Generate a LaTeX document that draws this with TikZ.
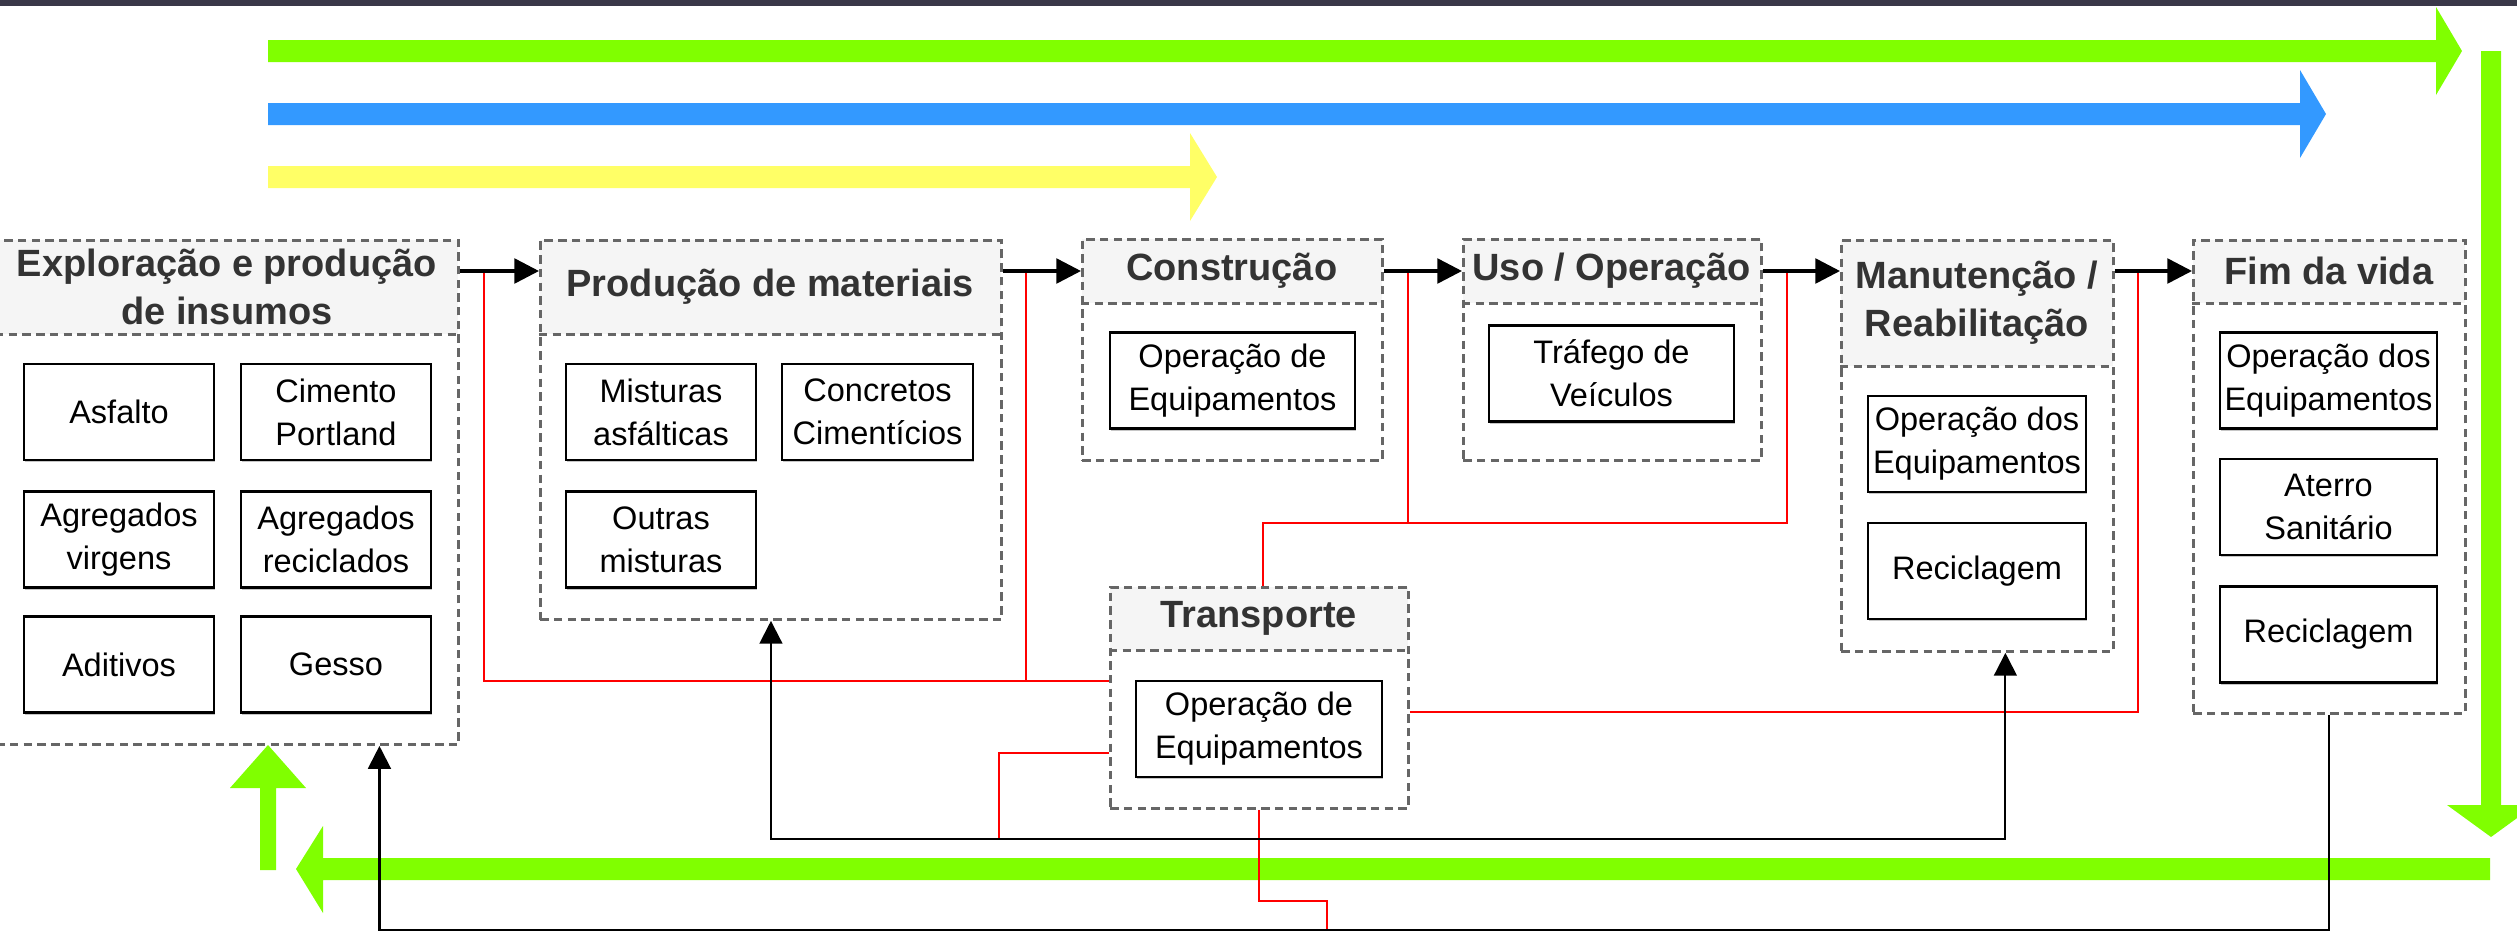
\documentclass[tikz,border=0pt]{standalone}
\usepackage{fontspec}
\setmainfont{Liberation Sans}
\usetikzlibrary{arrows.meta,calc,shadows}

\definecolor{hdrgray}{HTML}{F5F5F5}
\definecolor{txtgray}{HTML}{333333}
\definecolor{dashgray}{HTML}{666666}
\definecolor{limegreen}{HTML}{80FF00}
\definecolor{skyblue}{HTML}{3399FF}
\definecolor{paleyellow}{HTML}{FFFF66}
\definecolor{topbar}{HTML}{3A3848}

\begin{document}
\begin{tikzpicture}[x=0.01cm,y=-0.01cm,
  grp/.style={draw=dashgray,line width=0.75pt,dash pattern=on 2.4pt off 1.5pt,inner sep=0pt,anchor=north west},
  hdr/.style={fill=hdrgray,inner sep=0pt,anchor=north west,align=center,text=txtgray,font=\fontsize{10.8}{13.8}\selectfont\bfseries},
  item/.style={draw=black,fill=white,line width=0.6pt,inner sep=1pt,align=center,minimum height=0.96cm,font=\fontsize{9.25}{12.2}\selectfont,drop shadow={shadow xshift=0.4pt,shadow yshift=-0.6pt,opacity=0.45}},
  flow/.style={line width=1pt,-{Triangle[length=7pt,width=7pt]}},
  redl/.style={draw=red,line width=0.6pt},
  fb/.style={line width=0.6pt},
  ret/.tip={Triangle[length=6.5pt,width=6.5pt]}]
\useasboundingbox (0,0) rectangle (2517,933);
\fill[topbar] (0,0) rectangle (2517,6);

% fat flow arrows
\fill[limegreen] (268,40) -- (2436,40) -- (2436,7) -- (2462,51) -- (2436,95) -- (2436,62) -- (268,62) -- cycle;
\fill[skyblue] (268,103) -- (2300,103) -- (2300,70) -- (2326,114) -- (2300,158) -- (2300,125) -- (268,125) -- cycle;
\fill[paleyellow] (268,166) -- (1190,166) -- (1190,133) -- (1217,177) -- (1190,221) -- (1190,188) -- (268,188) -- cycle;
\fill[limegreen] (2481,51) -- (2501,51) -- (2501,805) -- (2535,805) -- (2491,837) -- (2447,805) -- (2481,805) -- cycle;
\fill[limegreen] (2490,858) -- (2490,880) -- (323,880) -- (323,913) -- (296,869) -- (323,826) -- (323,858) -- cycle;
\fill[limegreen] (260,870) -- (276,870) -- (276,788) -- (306,788) -- (268,745) -- (230,788) -- (260,788) -- cycle;

% stages
\node[hdr,minimum width=4.62cm,minimum height=0.94cm] (explh) at (-5,239) {Exploração e produção\\de insumos};
\node[grp,minimum width=4.62cm,minimum height=5.04cm] (expl) at (-5,239) {};
\draw[grp] (explh.south west) -- (explh.south east);

\node[hdr,minimum width=4.61cm,minimum height=0.94cm] (prodh) at (539,239) {Produção de materiais};
\node[grp,minimum width=4.61cm,minimum height=3.79cm] (prod) at (539,239) {};
\draw[grp] (prodh.south west) -- (prodh.south east);

\node[hdr,minimum width=3.00cm,minimum height=0.64cm] (consh) at (1081,238) {Construção};
\node[grp,minimum width=3.00cm,minimum height=2.21cm] (cons) at (1081,238) {};
\draw[grp] (consh.south west) -- (consh.south east);

\node[hdr,minimum width=2.98cm,minimum height=0.64cm] (usoh) at (1462,238) {Uso / Operação};
\node[grp,minimum width=2.98cm,minimum height=2.21cm] (uso) at (1462,238) {};
\draw[grp] (usoh.south west) -- (usoh.south east);

\node[hdr,minimum width=2.72cm,minimum height=1.26cm] (manuth) at (1840,239) {Manutenção /\\Reabilitação};
\node[grp,minimum width=2.72cm,minimum height=4.11cm] (manut) at (1840,239) {};
\draw[grp] (manuth.south west) -- (manuth.south east);

\node[hdr,minimum width=2.72cm,minimum height=0.63cm] (fimh) at (2192,239) {Fim da vida};
\node[grp,minimum width=2.72cm,minimum height=4.73cm] (fim) at (2192,239) {};
\draw[grp] (fimh.south west) -- (fimh.south east);

\node[hdr,minimum width=2.98cm,minimum height=0.63cm] (transph) at (1109,586) {Transporte};
\node[grp,minimum width=2.98cm,minimum height=2.21cm] (transp) at (1109,586) {};
\draw[grp] (transph.south west) -- (transph.south east);

% items
\node[item,minimum width=1.9cm] (asf) at (119,412) {Asfalto};
\node[item,minimum width=1.9cm] (cim) at (336,412) {Cimento\\Portland};
\node[item,minimum width=1.9cm] (agv) at (119,539.5) {Agregados\\virgens};
\node[item,minimum width=1.9cm] (agr) at (336,539.5) {Agregados\\reciclados};
\node[item,minimum width=1.9cm] (adi) at (119,664.5) {Aditivos};
\node[item,minimum width=1.9cm] (ges) at (336,664.5) {Gesso};
\node[item,minimum width=1.9cm] (mas) at (661,412) {Misturas\\asfálticas};
\node[item,minimum width=1.91cm] (ccm) at (877.5,412) {Concretos\\Cimentícios};
\node[item,minimum width=1.9cm] (omi) at (661,539.5) {Outras\\misturas};
\node[item,minimum width=2.45cm] (opc) at (1232.5,380.5) {Operação de\\Equipamentos};
\node[item,minimum width=2.45cm] (trf) at (1611.5,373.5) {Tráfego de\\Veículos};
\node[item,minimum width=2.18cm] (opm) at (1977,444) {Operação dos\\Equipamentos};
\node[item,minimum width=2.18cm] (rcm) at (1977,571) {Reciclagem};
\node[item,minimum width=2.17cm] (opf) at (2328.5,380.5) {Operação dos\\Equipamentos};
\node[item,minimum width=2.17cm] (ate) at (2328.5,507) {Aterro\\Sanitário};
\node[item,minimum width=2.17cm] (rcf) at (2328.5,634.5) {Reciclagem};
\node[item,minimum width=2.46cm] (opt) at (1259,729) {Operação de\\Equipamentos};

% transport links
\coordinate (ra) at (484,271);
\coordinate (rb) at (1026,271);
\coordinate (rc) at (1408,271);
\coordinate (rd) at (1787,271);
\coordinate (rf) at (2138,271);
\coordinate (ryA) at (0,681);
\coordinate (rj) at (1263,523);
\coordinate (ryC) at (0,712);
\coordinate (ryD) at (0,753);
\coordinate (rend) at (999,839);
\coordinate (ryE) at (0,901);
\coordinate (rbot) at (1327,930);
\draw[redl] (ra) |- (ryA -| transp.west);
\draw[redl] (rb) -- (rb |- ryA);
\draw[redl] (rd) |- (rj) -- (rj |- transp.north);
\draw[redl] (rc) -- (rc |- rj);
\draw[redl] (rf) |- (ryC -| transp.east);
\draw[redl] (ryD -| transp.west) -| (rend);
\draw[redl] (transp.south) -- (transp.south |- ryE) -| (rbot);

% main sequence
\coordinate (lvl) at (0,271);
\draw[flow] (expl.north east |- lvl) -- (prod.north west |- lvl);
\draw[flow] (prod.north east |- lvl) -- (cons.north west |- lvl);
\draw[flow] (cons.north east |- lvl) -- (uso.north west |- lvl);
\draw[flow] (uso.north east |- lvl) -- (manut.north west |- lvl);
\draw[flow] (manut.north east |- lvl) -- (fim.north west |- lvl);

% return paths
\coordinate (mtin) at ($(manut.south)+(28,0)$);
\coordinate (exin) at ($(expl.south)+(152,0)$);
\coordinate (bot) at (0,930);
\draw[fb,ret-ret] (prod.south) |- (rend -| mtin) -- (mtin);
\draw[fb,-ret] (fim.south) |- (bot -| exin) -- (exin);
\end{tikzpicture}
\end{document}
